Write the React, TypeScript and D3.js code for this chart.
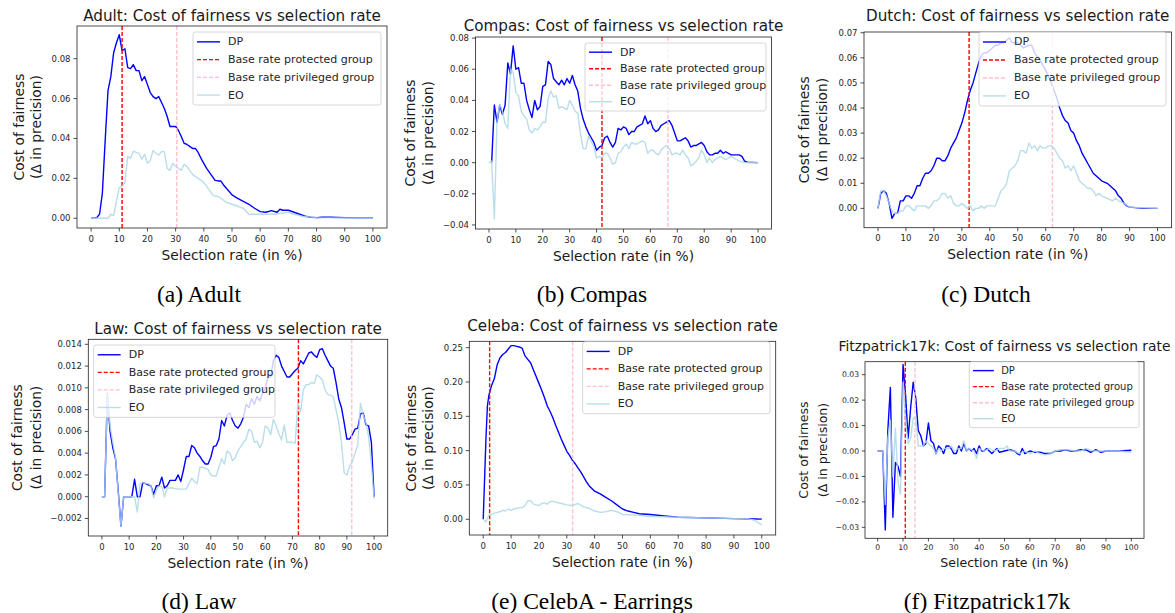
import React from 'react';
import * as d3 from 'd3';

type Pt = [number, number];

// selection rate (%) -> cost of fairness
const adultDP: Pt[] = [[0,0],[1,0],[2,0.0003],[3,0.002],[4,0.0125],[5,0.039],[6,0.064],[7,0.071],[8,0.083],[9,0.088],[10,0.092],[11,0.084],[12,0.085],[13,0.0755],[14,0.075],[15,0.077],[16,0.074],[17,0.074],[18,0.069],[19,0.071],[20,0.067],[21,0.063],[22,0.061],[23,0.060],[24,0.061],[25,0.058],[26,0.055],[27,0.051],[28,0.046],[29,0.046],[30,0.046],[31,0.044],[32,0.041],[33,0.0376],[34,0.037],[35,0.036],[36,0.035],[37,0.035],[38,0.033],[39,0.030],[40,0.0275],[41,0.025],[42,0.023],[43,0.021],[44,0.019],[45,0.0187],[46,0.0187],[47,0.0167],[48,0.015],[49,0.0134],[50,0.0117],[52,0.010],[54,0.0085],[56,0.007],[58,0.005],[60,0.0033],[62,0.003],[64,0.0038],[66,0.003],[67,0.0045],[68,0.004],[70,0.004],[72,0.003],[74,0.002],[76,0.001],[78,0.0005],[80,0.0003],[82,0.0005],[85,0.0005],[90,0.0003],[95,0.0002],[100,0.0002]];
const adultEO: Pt[] = [[0,0],[2,0],[4,0],[6,0],[7,0.002],[8,0.0013],[9,0.0087],[10,0.0154],[11,0.016],[12,0.018],[13,0.031],[14,0.030],[15,0.0337],[16,0.033],[17,0.0325],[18,0.0296],[19,0.032],[20,0.0276],[21,0.029],[22,0.034],[23,0.0326],[24,0.0317],[25,0.0334],[26,0.0334],[27,0.025],[28,0.024],[29,0.0276],[30,0.026],[31,0.025],[32,0.024],[33,0.027],[34,0.026],[35,0.024],[36,0.022],[37,0.021],[38,0.020],[39,0.019],[40,0.018],[41,0.016],[42,0.014],[43,0.012],[44,0.011],[45,0.011],[46,0.010],[47,0.009],[48,0.008],[50,0.007],[52,0.006],[54,0.005],[56,0.002],[58,0.002],[60,0.002],[65,0.002],[70,0.003],[72,0.002],[75,0.001],[80,0.0003],[90,0.0002],[100,0.0001]];

const compasDP: Pt[] = [[1,0],[2,0.037],[3,0.026],[4,0.037],[5,0.031],[6,0.037],[7,0.064],[8,0.057],[9,0.075],[10,0.060],[11,0.061],[12,0.051],[13,0.051],[14,0.040],[15,0.034],[16,0.029],[17,0.040],[18,0.034],[19,0.036],[20,0.049],[21,0.050],[22,0.065],[23,0.063],[24,0.054],[25,0.052],[26,0.050],[27,0.053],[28,0.050],[29,0.054],[30,0.051],[31,0.056],[32,0.050],[33,0.046],[34,0.035],[35,0.028],[36,0.023],[37,0.019],[38,0.016],[39,0.013],[40,0.008],[41,0.010],[42,0.011],[43,0.016],[44,0.017],[45,0.013],[46,0.010],[47,0.013],[48,0.022],[49,0.021],[50,0.023],[51,0.022],[52,0.018],[53,0.020],[54,0.020],[55,0.023],[56,0.024],[57,0.025],[58,0.030],[59,0.025],[60,0.027],[61,0.022],[62,0.020],[63,0.021],[64,0.024],[65,0.025],[66,0.026],[67,0.027],[68,0.024],[69,0.019],[70,0.014],[71,0.014],[72,0.015],[73,0.016],[74,0.014],[75,0.010],[76,0.011],[77,0.011],[78,0.012],[79,0.013],[80,0.011],[81,0.007],[82,0.005],[83,0.005],[84,0.006],[85,0.006],[86,0.008],[87,0.006],[88,0.007],[89,0.006],[90,0.005],[93,0.005],[94,0.004],[95,0.001],[96,0.0003],[100,0]];
const compasEO: Pt[] = [[0,0],[1,0.001],[2,-0.036],[3,0.027],[4,0.0375],[5,0.033],[6,0.025],[7,0.022],[8,0.060],[9,0.058],[10,0.045],[11,0.043],[12,0.033],[13,0.030],[14,0.028],[15,0.021],[16,0.019],[17,0.022],[18,0.021],[19,0.023],[20,0.026],[21,0.026],[22,0.041],[23,0.046],[24,0.042],[25,0.043],[26,0.035],[27,0.036],[28,0.035],[29,0.034],[30,0.040],[31,0.037],[32,0.033],[33,0.032],[34,0.019],[35,0.009],[36,0.009],[37,0.017],[38,0.014],[39,0.010],[40,0.003],[41,0.004],[42,0.003],[43,0.006],[44,0.006],[45,0.003],[46,-0.001],[47,0],[48,0.006],[49,0.007],[50,0.010],[51,0.012],[52,0.009],[53,0.013],[54,0.012],[55,0.012],[56,0.013],[57,0.014],[58,0.013],[59,0.006],[60,0.008],[61,0.008],[62,0.006],[63,0.005],[64,0.008],[65,0.010],[66,0.011],[67,0.009],[68,0.005],[69,0.006],[70,0.006],[71,0.005],[72,0.008],[73,0.005],[74,0.003],[75,-0.002],[76,-0.001],[77,0.001],[78,0.003],[79,0.008],[80,0.005],[81,0],[82,0.003],[83,0],[84,0.002],[85,0.003],[86,0.004],[88,0.002],[90,0.004],[91,0.003],[93,0.001],[95,0],[100,0]];

const dutchDP: Pt[] = [[0,0],[1,0.006],[2,0.007],[3,0.006],[4,0.002],[5,-0.004],[6,-0.002],[7,-0.002],[8,0.003],[9,0.003],[10,0.005],[11,0.005],[12,0.004],[13,0.006],[14,0.009],[15,0.009],[16,0.012],[17,0.014],[18,0.014],[19,0.015],[20,0.017],[21,0.020],[22,0.020],[23,0.019],[24,0.019],[25,0.021],[26,0.024],[27,0.026],[28,0.028],[29,0.031],[30,0.034],[31,0.038],[32,0.043],[33,0.047],[34,0.050],[35,0.054],[36,0.058],[37,0.061],[38,0.062],[39,0.062],[40,0.063],[41,0.064],[42,0.065],[43,0.065],[44,0.066],[45,0.066],[46,0.067],[47,0.068],[48,0.066],[50,0.066],[52,0.064],[54,0.065],[55,0.065],[56,0.062],[58,0.059],[60,0.055],[62,0.050],[63,0.047],[64,0.044],[65,0.040],[66,0.037],[67,0.035],[68,0.034],[69,0.031],[70,0.030],[71,0.027],[72,0.025],[73,0.022],[74,0.020],[75,0.018],[76,0.016],[77,0.014],[78,0.013],[79,0.012],[80,0.011],[82,0.010],[84,0.008],[85,0.007],[86,0.005],[87,0.004],[88,0.002],[89,0.001],[90,0.0005],[95,0],[100,0]];
const dutchEO: Pt[] = [[0,0],[1,0.007],[2,0.007],[3,0.005],[4,0.002],[5,-0.001],[6,-0.002],[7,-0.002],[8,-0.001],[9,-0.001],[10,0.001],[11,0.001],[12,0],[13,-0.001],[14,0.001],[15,0.001],[16,0.001],[17,0.001],[18,0],[19,0.001],[20,0.003],[21,0.003],[22,0.004],[23,0.006],[24,0.006],[25,0.004],[26,0.005],[27,0.002],[28,0.001],[29,0.001],[30,0.002],[31,0.001],[32,0],[33,0.001],[34,-0.001],[35,0],[36,0],[37,0.001],[38,0],[39,0.001],[40,0.001],[41,0.001],[42,0.001],[43,0.004],[44,0.007],[45,0.008],[46,0.010],[47,0.015],[48,0.016],[49,0.017],[50,0.019],[51,0.023],[52,0.023],[53,0.022],[54,0.026],[55,0.024],[56,0.025],[57,0.023],[58,0.025],[59,0.024],[60,0.024],[61,0.025],[62,0.025],[63,0.024],[64,0.022],[65,0.020],[66,0.019],[67,0.016],[68,0.017],[69,0.015],[70,0.017],[71,0.014],[72,0.011],[73,0.010],[74,0.009],[75,0.008],[76,0.008],[77,0.007],[78,0.005],[79,0.006],[80,0.005],[82,0.004],[84,0.003],[85,0.004],[86,0.003],[88,0.002],[90,0.0005],[95,0.0002],[100,0]];

const lawDP: Pt[] = [[0,0],[1,0],[2,0.0095],[3,0.006],[4,0.0045],[5,0.0035],[6,0.0005],[7,-0.0027],[8,0],[9,0],[10,0],[11,0],[12,0.0016],[13,0],[14,0],[15,0.0013],[16,0.0012],[17,0.0011],[18,0.001],[19,0.0002],[20,0.001],[21,0.001],[22,0.0018],[23,0.0008],[24,0.001],[25,0.0015],[26,0.0015],[27,0.0015],[28,0.002],[29,0.0014],[30,0.0025],[31,0.0037],[32,0.0037],[33,0.0047],[34,0.0045],[35,0.004],[36,0.0037],[37,0.0033],[38,0.003],[39,0.003],[40,0.0036],[41,0.0046],[42,0.0047],[43,0.0053],[44,0.007],[45,0.0065],[46,0.0075],[47,0.0077],[48,0.007],[49,0.0065],[50,0.0063],[51,0.0067],[52,0.0073],[53,0.0085],[54,0.0082],[55,0.009],[56,0.0085],[57,0.0092],[58,0.0088],[59,0.0095],[60,0.010],[61,0.011],[62,0.011],[63,0.0125],[64,0.013],[65,0.0128],[66,0.012],[67,0.0115],[68,0.011],[69,0.011],[70,0.0113],[71,0.0116],[72,0.0118],[73,0.0125],[74,0.0122],[75,0.0127],[76,0.0132],[77,0.0133],[78,0.013],[79,0.0128],[80,0.0135],[81,0.0136],[82,0.013],[83,0.0125],[84,0.012],[85,0.0118],[86,0.0105],[87,0.009],[88,0.0082],[89,0.0068],[90,0.0053],[91,0.0053],[92,0.0057],[93,0.0062],[94,0.0063],[95,0.0076],[96,0.0077],[97,0.0066],[98,0.0065],[99,0.005],[100,0]];
const lawEO: Pt[] = [[0,0],[1,0],[2,0.0094],[3,0.0065],[4,0.005],[5,0.0036],[6,0.0003],[7,-0.0027],[8,0],[9,0],[10,0],[11,0],[12,0],[13,-0.0014],[14,0.0012],[15,0.0013],[16,0.0012],[17,0.0012],[18,0.001],[19,-0.0001],[20,0.0006],[21,0.001],[22,0.0009],[23,0],[24,0.0008],[26,0.0008],[28,0.0007],[30,0.0007],[31,0.0007],[32,0.0012],[33,0.0017],[34,0.0014],[35,0.0012],[36,0.0027],[37,0.0027],[38,0.0026],[39,0.0025],[40,0.002],[41,0.0019],[42,0.0019],[43,0.0027],[44,0.0035],[45,0.003],[46,0.0042],[47,0.004],[48,0.0033],[49,0.0036],[50,0.0042],[51,0.0046],[52,0.005],[53,0.0053],[54,0.0062],[55,0.006],[56,0.005],[57,0.0051],[58,0.0045],[59,0.005],[60,0.0065],[61,0.0063],[62,0.0057],[63,0.0071],[64,0.0065],[65,0.0058],[66,0.0052],[67,0.0066],[68,0.005],[69,0.005],[70,0.005],[71,0.0049],[72,0.0086],[73,0.0078],[74,0.0098],[75,0.0103],[76,0.0103],[77,0.0105],[78,0.0104],[79,0.0112],[80,0.011],[81,0.0107],[82,0.0098],[83,0.0094],[84,0.0093],[85,0.0092],[86,0.008],[87,0.0068],[88,0.005],[89,0.0022],[90,0.002],[91,0.0028],[92,0.0032],[93,0.004],[94,0.0047],[95,0.0086],[96,0.0075],[97,0.0068],[98,0.0055],[99,0.003],[100,-0.0002]];

const celebaDP: Pt[] = [[0,0],[1,0.12],[1.5,0.165],[2,0.18],[3,0.195],[4,0.205],[5,0.225],[6,0.235],[7,0.24],[8,0.243],[9,0.248],[10,0.253],[11,0.253],[12,0.252],[13,0.251],[14,0.249],[15,0.238],[16,0.233],[17,0.228],[18,0.218],[19,0.208],[20,0.198],[21,0.188],[22,0.177],[23,0.165],[24,0.157],[25,0.148],[26,0.137],[27,0.127],[28,0.117],[29,0.108],[30,0.099],[31,0.093],[32,0.086],[33,0.081],[34,0.075],[35,0.069],[36,0.062],[37,0.055],[38,0.049],[39,0.045],[40,0.041],[42,0.037],[44,0.032],[46,0.027],[48,0.021],[50,0.015],[52,0.012],[54,0.010],[56,0.008],[60,0.007],[65,0.005],[70,0.003],[80,0.002],[90,0.001],[95,0.0008],[100,0.0003]];
const celebaEO: Pt[] = [[0,0],[1,-0.004],[2,0.006],[3,0.007],[4,0.009],[6,0.011],[7,0.013],[8,0.012],[9,0.015],[10,0.013],[11,0.015],[12,0.016],[13,0.017],[14,0.017],[15,0.020],[16,0.027],[17,0.027],[18,0.022],[19,0.021],[20,0.020],[21,0.023],[22,0.024],[23,0.022],[24,0.026],[25,0.026],[26,0.025],[28,0.023],[30,0.021],[32,0.020],[34,0.023],[36,0.018],[38,0.016],[40,0.012],[42,0.010],[44,0.011],[46,0.013],[48,0.011],[50,0.007],[55,0.006],[60,0.004],[70,0.003],[80,0.002],[90,0.001],[95,0.001],[97,-0.001],[100,-0.008]];

const fitzDP: Pt[] = [[0,0],[1,0],[2,0],[3,-0.031],[4,0.008],[5,0.025],[6,-0.026],[7,-0.0045],[8,-0.006],[9,-0.010],[10,0.034],[11,0.022],[12,0.005],[13,0.017],[14,0.027],[15,0.021],[16,0.008],[17,0.006],[18,0.002],[19,0.003],[20,0.011],[21,0.004],[22,0.003],[23,-0.001],[24,0.002],[25,0.001],[26,-0.001],[27,0.002],[28,0.002],[29,0.001],[30,-0.001],[31,-0.001],[32,0.002],[33,0],[34,0.003],[35,0],[36,0.001],[37,0],[38,0.001],[39,-0.001],[40,0.002],[41,0],[42,0],[43,0.001],[44,0],[45,-0.001],[46,0],[47,0.001],[48,-0.0005],[50,0],[52,0.0005],[54,0],[55,-0.001],[56,-0.0015],[57,0.001],[58,-0.001],[60,0],[62,-0.0005],[64,-0.0005],[66,-0.001],[68,-0.001],[70,0],[72,0],[74,0.0005],[76,0],[78,0],[80,0.0005],[82,0.0005],[84,-0.0005],[86,0.0005],[88,-0.0005],[90,0],[92,0],[95,0],[100,0.0003]];
const fitzEO: Pt[] = [[0,0],[1,0],[2,0],[3,-0.021],[4,0.005],[5,0.012],[6,-0.010],[7,0.009],[8,-0.012],[9,-0.017],[10,0.027],[11,0.012],[12,0.003],[13,0.005],[14,0.013],[15,0.013],[16,0.002],[17,0.002],[18,0.002],[19,0.004],[20,0.003],[21,0.002],[22,0.001],[23,-0.001],[24,0.001],[25,0],[26,0.001],[27,0.001],[28,0.001],[29,0.002],[30,0],[32,0.001],[33,0.001],[34,0.004],[35,0],[36,0.001],[38,0],[39,-0.003],[40,0.001],[42,0],[44,0.001],[46,0],[48,0.001],[50,0.001],[51,0.002],[52,0],[54,0],[56,-0.001],[58,0],[60,-0.001],[62,0],[64,-0.001],[66,-0.0015],[68,-0.001],[70,0],[72,0.0005],[75,0.0005],[78,0],[80,0],[82,0.001],[85,0],[88,0],[90,0],[95,0],[100,-0.0005]];

const xTicks = [0, 10, 20, 30, 40, 50, 60, 70, 80, 90, 100];
const adultTicks = [0, 0.02, 0.04, 0.06, 0.08];
const compasTicks = [-0.04, -0.02, 0, 0.02, 0.04, 0.06, 0.08];
const dutchTicks = [0, 0.01, 0.02, 0.03, 0.04, 0.05, 0.06, 0.07];
const lawTicks = [-0.002, 0, 0.002, 0.004, 0.006, 0.008, 0.01, 0.012, 0.014];
const celebaTicks = [0, 0.05, 0.1, 0.15, 0.2, 0.25];
const fitzTicks = [-0.03, -0.02, -0.01, 0, 0.01, 0.02, 0.03];

const legendLabels = ['DP', 'Base rate protected group', 'Base rate privileged group', 'EO'];

const FONT = 'DejaVu Sans';

interface PanelSpec {
  id: string;
  title: string;
  caption: string;
  dp: Pt[];
  eo: Pt[];
  prot: number;
  priv: number;
  box: [number, number, number, number];
  yDomain: [number, number];
  yTicks: number[];
  yFmt: string;
  titleY: number;
  yLab: [number, number];
  legend: [number, number, number, number];
  k: number;
  capX: number;
  capY: number;
}

const panels: PanelSpec[] = [
  { id: 'a', title: 'Adult: Cost of fairness vs selection rate', caption: '(a) Adult', dp: adultDP, eo: adultEO, prot: 11, priv: 30.4,
    box: [77, 26, 387, 228], yDomain: [-0.0049, 0.0964], yTicks: adultTicks, yFmt: '.2f', titleY: 16, yLab: [19, 36],
    legend: [193, 32, 381, 105], k: 1, capX: 199, capY: 294 },
  { id: 'b', title: 'Compas: Cost of fairness vs selection rate', caption: '(b) Compas', dp: compasDP, eo: compasEO, prot: 42, priv: 66.5,
    box: [475.5, 37, 771.5, 229], yDomain: [-0.0426, 0.0807], yTicks: compasTicks, yFmt: '.2f', titleY: 26, yLab: [410, 428],
    legend: [585, 43, 766, 111], k: 1, capX: 592, capY: 294 },
  { id: 'c', title: 'Dutch: Cost of fairness vs selection rate', caption: '(c) Dutch', dp: dutchDP, eo: dutchEO, prot: 32.6, priv: 62.4,
    box: [864, 32, 1171.5, 227.7], yDomain: [-0.0077, 0.0703], yTicks: dutchTicks, yFmt: '.2f', titleY: 16, yLab: [804, 822],
    legend: [979, 32, 1166, 106], k: 1, capX: 986, capY: 294 },
  { id: 'd', title: 'Law: Cost of fairness vs selection rate', caption: '(d) Law', dp: lawDP, eo: lawEO, prot: 72.2, priv: 91.8,
    box: [88.3, 339.3, 387.7, 536], yDomain: [-0.00361, 0.01446], yTicks: lawTicks, yFmt: '.3f', titleY: 329.3, yLab: [17, 36],
    legend: [93.7, 345, 275, 417.3], k: 1, capX: 199, capY: 600.5 },
  { id: 'e', title: 'Celeba: Cost of fairness vs selection rate', caption: '(e) CelebA - Earrings', dp: celebaDP, eo: celebaEO, prot: 2.3, priv: 32.1,
    box: [469.3, 341.3, 775.7, 535], yDomain: [-0.0229, 0.2593], yTicks: celebaTicks, yFmt: '.2f', titleY: 325.7, yLab: [411, 428],
    legend: [582.7, 341.7, 770, 413.7], k: 1, capX: 592, capY: 600.5 },
  { id: 'f', title: 'Fitzpatrick17k: Cost of fairness vs selection rate', caption: '(f) Fitzpatrick17k', dp: fitzDP, eo: fitzEO, prot: 10.9, priv: 14.7,
    box: [865, 361.7, 1144, 538.3], yDomain: [-0.0343, 0.0351], yTicks: fitzTicks, yFmt: '.2f', titleY: 346, yLab: [803, 822],
    legend: [969.3, 361.7, 1139, 427.7], k: 0.91, capX: 987, capY: 600.5 },
];

const Panel: React.FC<{ p: PanelSpec }> = ({ p }) => {
  const [l, t, r, b] = p.box;
  const k = p.k;
  const x = d3.scaleLinear().domain([-5, 105]).range([l, r]);
  const y = d3.scaleLinear().domain(p.yDomain).range([b, t]);
  const line = d3.line<Pt>().x(d => x(d[0])).y(d => y(d[1]));
  const fmt = d3.format(p.yFmt);
  const [lx0, ly0, lx1, ly1] = p.legend;
  const lh = ly1 - ly0;
  const styles = [
    { color: 'blue', dash: undefined as string | undefined, op: 1 },
    { color: 'red', dash: '4,2', op: 1 },
    { color: 'pink', dash: '4,2', op: 1 },
    { color: 'lightblue', dash: undefined, op: 0.85 },
  ];
  const cx = (l + r) / 2;
  const cy = (t + b) / 2;
  return (
    <g>
      <defs>
        <clipPath id={`clip-${p.id}`}>
          <rect x={l} y={t} width={r - l} height={b - t} />
        </clipPath>
      </defs>
      <g clipPath={`url(#clip-${p.id})`}>
        <path d={line(p.dp) || ''} fill="none" stroke="blue" strokeWidth={1.4} strokeLinejoin="round" />
        <line x1={x(p.prot)} x2={x(p.prot)} y1={t} y2={b} stroke="red" strokeWidth={1.4} strokeDasharray="4,2" />
        <line x1={x(p.priv)} x2={x(p.priv)} y1={t} y2={b} stroke="pink" strokeWidth={1.4} strokeDasharray="4,2" />
        <path d={line(p.eo) || ''} fill="none" stroke="lightblue" strokeOpacity={0.85} strokeWidth={1.4} strokeLinejoin="round" />
      </g>
      <rect x={l} y={t} width={r - l} height={b - t} fill="none" stroke="#222" strokeWidth={0.8} />
      {xTicks.map(v => (
        <g key={`x${v}`}>
          <line x1={x(v)} x2={x(v)} y1={b} y2={b + 3.5 * k} stroke="#222" strokeWidth={0.8} />
          <text x={x(v)} y={b + 10.5 * k} fontSize={8.5 * k} textAnchor="middle" dominantBaseline="central" fill="#262626">{v}</text>
        </g>
      ))}
      {p.yTicks.map(v => (
        <g key={`y${v}`}>
          <line x1={l - 3.5 * k} x2={l} y1={y(v)} y2={y(v)} stroke="#222" strokeWidth={0.8} />
          <text x={l - 6.5 * k} y={y(v)} fontSize={8.5 * k} textAnchor="end" dominantBaseline="central" fill="#262626">{fmt(v)}</text>
        </g>
      ))}
      <text x={cx} y={p.titleY} fontSize={15.2 * k} textAnchor="middle" dominantBaseline="central" fill="#1a1a1a">{p.title}</text>
      <text x={cx} y={b + 26.5 * k} fontSize={13.8 * k} textAnchor="middle" dominantBaseline="central" fill="#1a1a1a">Selection rate (in %)</text>
      <text transform={`translate(${p.yLab[0]},${cy}) rotate(-90)`} fontSize={13.8 * k} textAnchor="middle" dominantBaseline="central" fill="#1a1a1a">Cost of fairness</text>
      <text transform={`translate(${p.yLab[1]},${cy}) rotate(-90)`} fontSize={13.8 * k} textAnchor="middle" dominantBaseline="central" fill="#1a1a1a">(Δ in precision)</text>
      <rect x={lx0} y={ly0} width={lx1 - lx0} height={lh} rx={2.5} fill="white" fillOpacity={0.8} stroke="#cccccc" strokeWidth={0.8} />
      {legendLabels.map((lab, i) => {
        const ey = ly0 + lh * 0.135 + i * lh * 0.243;
        const s = styles[i];
        return (
          <g key={lab}>
            <line x1={lx0 + 4 * k} x2={lx0 + 27 * k} y1={ey} y2={ey} stroke={s.color} strokeOpacity={s.op} strokeWidth={1.4} strokeDasharray={s.dash} />
            <text x={lx0 + 35 * k} y={ey} fontSize={11 * k} dominantBaseline="central" fill="#262626">{lab}</text>
          </g>
        );
      })}
      <text x={p.capX} y={p.capY} fontSize={23.5} fontFamily="Liberation Serif" textAnchor="middle" dominantBaseline="central" fill="#000">{p.caption}</text>
    </g>
  );
};

const App: React.FC = () => (
  <svg width={1175} height={613} style={{ position: 'absolute', left: 0, top: 0, background: 'white' }} fontFamily={FONT}>
    <rect width={1175} height={613} fill="white" />
    {panels.map(p => <Panel key={p.id} p={p} />)}
  </svg>
);

export default App;
